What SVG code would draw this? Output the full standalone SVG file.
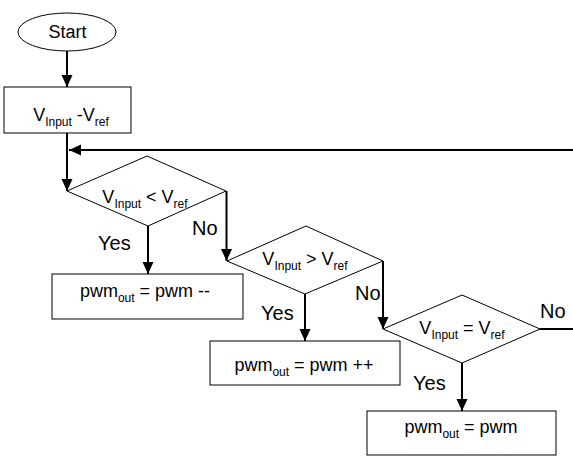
<svg xmlns="http://www.w3.org/2000/svg" width="573" height="457" viewBox="0 0 573 457">
<style>
.shape{fill:#fff;stroke:#000;stroke-width:1}
.t{font-family:"Liberation Sans",Arial,sans-serif;font-size:18px;fill:#000;text-anchor:middle}
.s{font-size:12px}
.lbl{font-family:"Liberation Sans",Arial,sans-serif;font-size:20px;fill:#000}
.c{fill:none;stroke:#000;stroke-width:2}
</style>
<defs>
<marker id="ah" markerUnits="userSpaceOnUse" markerWidth="12" markerHeight="12" refX="12" refY="5.5" orient="auto">
<path d="M0,0 L12,5.5 L0,11 z" fill="#000"/>
</marker>
</defs>
<rect width="573" height="457" fill="#fff"/>
<g id="connectors">
<path class="c" d="M67,51 L67,87" marker-end="url(#ah)"/>
<path class="c" d="M67,133 L67,191" marker-end="url(#ah)"/>
<path class="c" d="M573,150 L69,150" marker-end="url(#ah)"/>
<path class="c" d="M148,226 L148,274" marker-end="url(#ah)"/>
<path class="c" d="M226.5,191 L226.5,261" marker-end="url(#ah)"/>
<path class="c" d="M305,294 L305,341" marker-end="url(#ah)"/>
<path class="c" d="M383,261 L383,329" marker-end="url(#ah)"/>
<path class="c" d="M462,363 L462,411" marker-end="url(#ah)"/>
<path class="c" d="M540,329 L573,329"/>
<text class="lbl" x="98" y="250">Yes</text>
<text class="lbl" x="192" y="235">No</text>
<text class="lbl" x="261" y="320">Yes</text>
<text class="lbl" x="355" y="300">No</text>
<text class="lbl" x="413" y="390">Yes</text>
<text class="lbl" x="540" y="318">No</text>
</g>
<g id="start">
<ellipse class="shape" cx="67" cy="32" rx="49" ry="19"/>
<text class="t" x="67.5" y="38">Start</text>
</g>
<g id="diff">
<rect class="shape" x="4" y="87" width="127" height="46"/>
<text class="t" x="71" y="121">V<tspan class="s" dy="5">Input</tspan><tspan dy="-5"> -V</tspan><tspan class="s" dy="5">ref</tspan></text>
</g>
<g id="cmp-less">
<polygon class="shape" points="67,191 147,156 226,191 148,226"/>
<text class="t" x="145" y="203">V<tspan class="s" dy="5">Input</tspan><tspan dy="-5"> &lt; V</tspan><tspan class="s" dy="5">ref</tspan></text>
</g>
<g id="dec">
<rect class="shape" x="52" y="274" width="191" height="45"/>
<text class="t" x="145" y="297">pwm<tspan class="s" dy="5">out</tspan><tspan dy="-5"> = pwm --</tspan></text>
</g>
<g id="cmp-greater">
<polygon class="shape" points="227,261 306,226 383,261 305,294"/>
<text class="t" x="305" y="265">V<tspan class="s" dy="5">Input</tspan><tspan dy="-5"> &gt; V</tspan><tspan class="s" dy="5">ref</tspan></text>
</g>
<g id="inc">
<rect class="shape" x="210" y="341" width="190" height="44"/>
<text class="t" x="304" y="371">pwm<tspan class="s" dy="5">out</tspan><tspan dy="-5"> = pwm ++</tspan></text>
</g>
<g id="cmp-equal">
<polygon class="shape" points="383,329 462,295 540,329 462,363"/>
<text class="t" x="462" y="334">V<tspan class="s" dy="5">Input</tspan><tspan dy="-5"> = V</tspan><tspan class="s" dy="5">ref</tspan></text>
</g>
<g id="hold">
<rect class="shape" x="367" y="411" width="189" height="44"/>
<text class="t" x="461" y="433">pwm<tspan class="s" dy="5">out</tspan><tspan dy="-5"> = pwm</tspan></text>
</g>
</svg>
